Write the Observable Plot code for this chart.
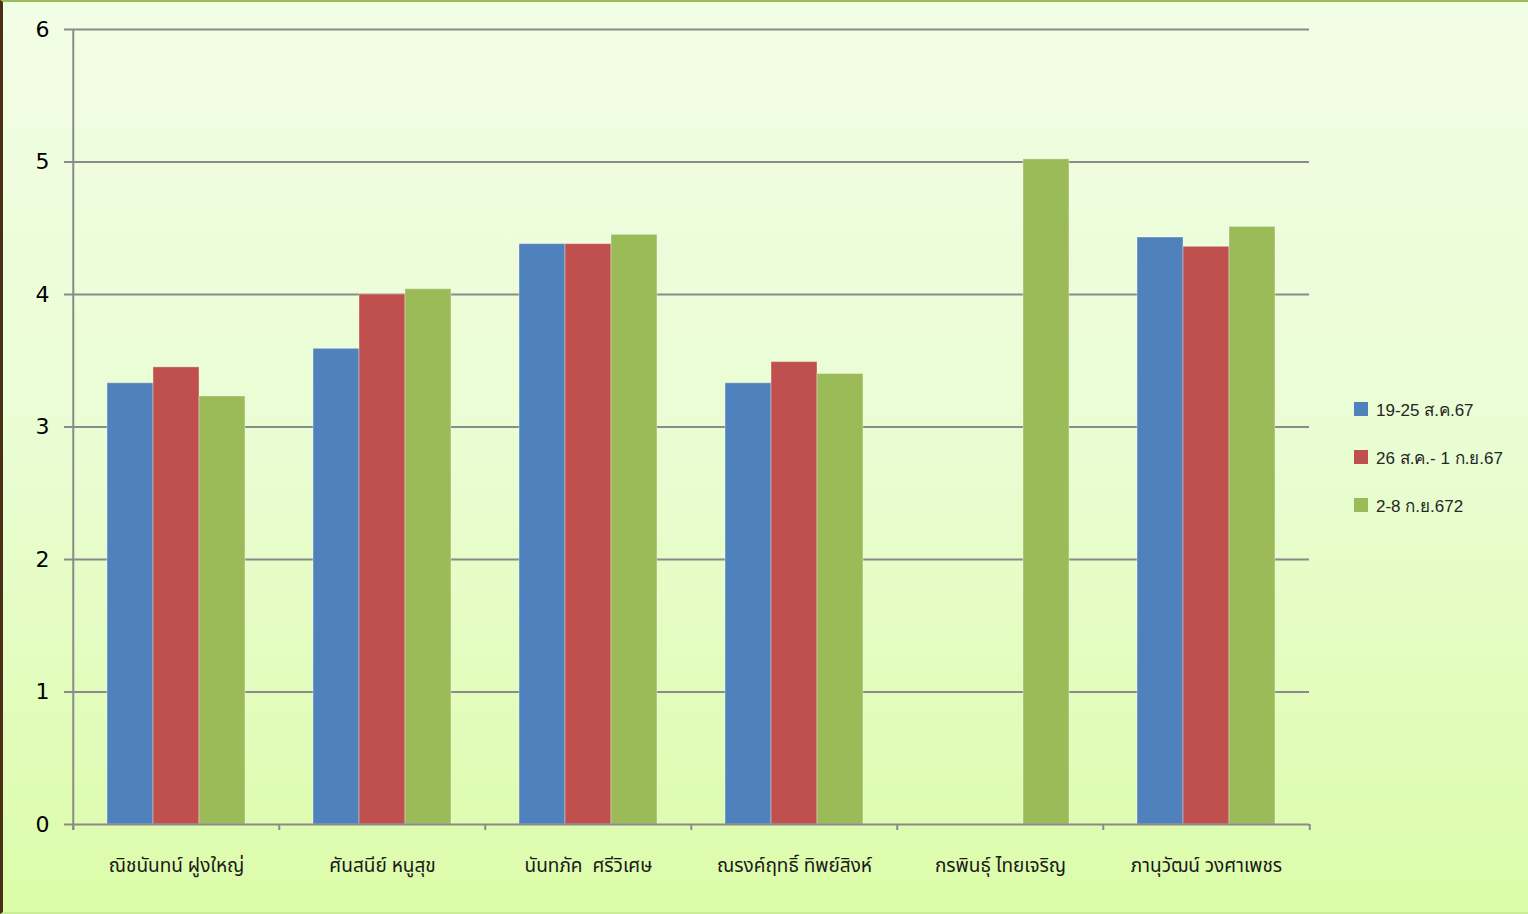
<!DOCTYPE html>
<html>
<head>
<meta charset="utf-8">
<script src="https://cdn.jsdelivr.net/npm/d3@7"></script>
<script src="https://cdn.jsdelivr.net/npm/@observablehq/plot@0.6"></script>
<style>
  html, body { margin: 0; padding: 0; }
  body { width: 1528px; height: 914px; overflow: hidden; }
  #wrap {
    position: relative; width: 1528px; height: 914px; box-sizing: border-box;
    background: linear-gradient(to bottom, #f2fde5 0%, #e9fdd2 50%, #dcfca9 100%);
    border-top: 2px solid #9bbb59; border-left: 3px solid #4a2e16; border-bottom: 2px solid #c9ec94;
  }
  #chart { position: absolute; left: -5px; top: -3px; }
  #legend { position: absolute; left: 1351px; top: 383px; font-family: "Liberation Sans", Arial, sans-serif; font-size: 17px; color: #262626; }
  .item { display: flex; align-items: center; height: 48px; }
  .sw { width: 14px; height: 14px; margin-right: 8px; }
</style>
</head>
<body>
<div id="wrap"><div id="chart"></div><div id="legend"></div></div>
<script>
const names = ["ณิชนันทน์ ฝูงใหญ่", "ศันสนีย์ หนูสุข", "นันทภัค  ศรีวิเศษ", "ณรงค์ฤทธิ์ ทิพย์สิงห์", "กรพินธุ์ ไทยเจริญ", "ภานุวัฒน์ วงศาเพชร"];
const seriesNames = ["19-25 ส.ค.67", "26 ส.ค.- 1 ก.ย.67", "2-8 ก.ย.672"];
const s1 = [3.33, 3.59, 4.38, 3.33, null, 4.43];
const s2 = [3.45, 4.00, 4.38, 3.49, null, 4.36];
const s3 = [3.23, 4.04, 4.45, 3.40, 5.02, 4.51];
const colors = ["#4f81bd", "#c0504d", "#9bbb59"];
const yTicks = [0, 1, 2, 3, 4, 5, 6];

const seriesValues = [s1, s2, s3];
const data = [];
names.forEach((n, i) => seriesValues.forEach((arr, j) => {
  if (arr[i] != null) data.push({name: n, series: seriesNames[j], value: arr[i]});
}));

const W = 1528, H = 914, mL = 72, mR = 215, mT = 30, mB = 89;
const padOuter = 0.74;
const facetW = (W - mL - mR) / names.length;
const step = facetW / (seriesNames.length + 2 * padOuter);
const edge = step * (padOuter + 0.5);
const pxPerUnit = (H - mT - mB) / 6;
const tickLen = 6 / pxPerUnit;
const grid = "#8a8a8a";

const chart = Plot.plot({
  width: W, height: H,
  marginLeft: mL, marginRight: mR, marginTop: mT, marginBottom: mB,
  style: {background: "transparent", overflow: "visible"},
  fx: {domain: names, padding: 0, label: null},
  x: {domain: seriesNames, paddingInner: 0, paddingOuter: padOuter, axis: null, round: false},
  y: {domain: [0, 6], ticks: yTicks, label: null},
  color: {domain: seriesNames, range: colors},
  marks: [
    Plot.ruleY(yTicks.filter(t => t > 0), {stroke: grid, strokeWidth: 2}),
    Plot.axisY({ticks: yTicks, tickSize: 9, tickPadding: 15, fontSize: 22, stroke: grid, strokeWidth: 2, fill: "#000", fontFamily: "DejaVu Sans", label: null, tickFormat: d => d}),
    Plot.barY(data, {fx: "name", x: "series", y: "value", fill: "series", stroke: "#ffffff", strokeOpacity: 0.35, strokeWidth: 1}),
    Plot.ruleY([0], {stroke: grid, strokeWidth: 2}),
    Plot.ruleX(names, {fx: d => d, x: () => seriesNames[0], dx: -edge, y1: 0, y2: -tickLen, stroke: grid, strokeWidth: 2}),
    Plot.ruleX([names[names.length - 1]], {fx: d => d, x: () => seriesNames[seriesNames.length - 1], dx: edge, y1: 0, y2: -tickLen, stroke: grid, strokeWidth: 2}),
    Plot.ruleX([names[0]], {fx: d => d, x: () => seriesNames[0], dx: -edge, y1: -tickLen, y2: 6, stroke: grid, strokeWidth: 2}),
    Plot.axisFx({anchor: "bottom", tickSize: 0, tickPadding: 34, fontSize: 19, fill: "#1a1a1a", fontFamily: "Tahoma, 'Noto Sans Thai', Loma, Garuda, sans-serif", label: null})
  ]
});
document.getElementById("chart").appendChild(chart);

const legend = d3.select("#legend");
seriesNames.forEach((s, i) => {
  const it = legend.append("div").attr("class", "item");
  it.append("div").attr("class", "sw").style("background", colors[i]);
  it.append("span").text(s);
});
</script>
</body>
</html>
